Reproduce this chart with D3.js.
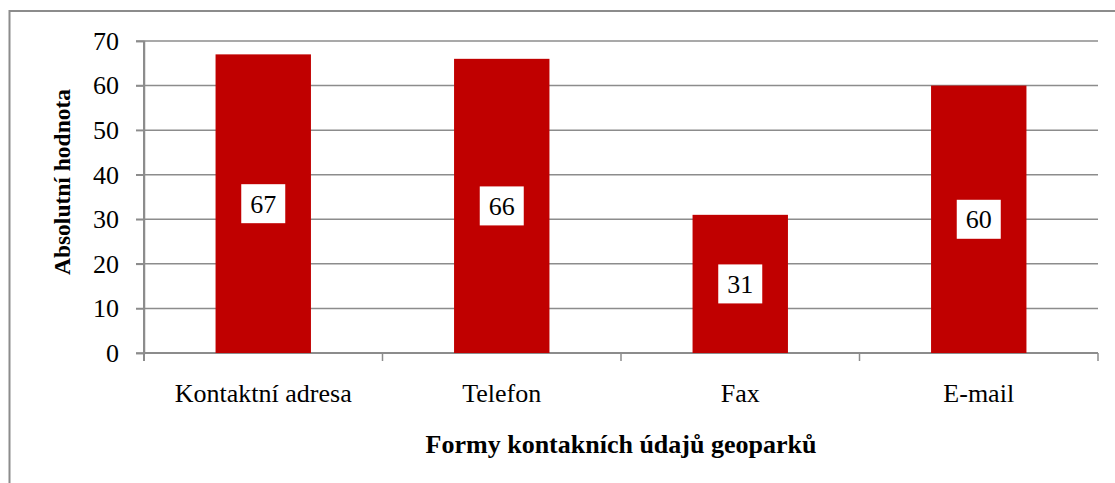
<!DOCTYPE html>
<html>
<head>
<meta charset="utf-8">
<script src="https://cdn.jsdelivr.net/npm/d3@7"></script>
<style>
  body { margin: 0; background: #fff; }
  text { font-family: "Liberation Serif", "Times New Roman", serif; fill: #000; }
</style>
</head>
<body>
<div id="chart"></div>
<script>
// data
var categories = ["Kontaktní adresa", "Telefon", "Fax", "E-mail"];
var values = [67, 66, 31, 60];
var yTicks = [0, 10, 20, 30, 40, 50, 60, 70];
var xTitle = "Formy kontakních údajů geoparků";
var yTitle = "Absolutní hodnota";

//-----------------------------------------------------------------------

var width = 1115, height = 483;
var plot = { left: 144, right: 1098, top: 41, bottom: 353 };
var gridColor = "#8c8c8c";
var barColor = "#c00000";

var svg = d3.select("#chart").append("svg")
  .attr("width", width)
  .attr("height", height);

// outer chart border (runs past the right and bottom edge)
svg.append("rect")
  .attr("x", 9.5).attr("y", 11)
  .attr("width", width + 20).attr("height", height + 20)
  .attr("fill", "#fff")
  .attr("stroke", gridColor)
  .attr("stroke-width", 2);

var x = d3.scaleBand()
  .domain(categories)
  .range([plot.left, plot.right])
  .paddingInner(0.6)
  .paddingOuter(0.3);

var y = d3.scaleLinear()
  .domain([0, 70])
  .range([plot.bottom, plot.top]);

// horizontal gridlines
svg.append("g")
  .selectAll("line")
  .data(yTicks)
  .enter()
  .append("line")
  .attr("x1", plot.left - 8)
  .attr("x2", plot.right)
  .attr("y1", function (d) { return y(d); })
  .attr("y2", function (d) { return y(d); })
  .attr("stroke", gridColor)
  .attr("stroke-width", 1.5);

// y axis
var yAxis = svg.append("g")
  .attr("transform", "translate(" + plot.left + ",0)")
  .attr("font-family", "'Liberation Serif', serif")
  .call(d3.axisLeft(y).tickValues(yTicks).tickSize(8).tickPadding(17));
yAxis.select(".domain").attr("stroke", gridColor).attr("stroke-width", 1.5);
yAxis.selectAll(".tick line").attr("stroke", gridColor).attr("stroke-width", 1.5);
yAxis.selectAll(".tick text")
  .attr("font-size", 26)
  .style("font-family", "'Liberation Serif', serif");

// x axis, ticks at the category boundaries
var boundaries = d3.range(categories.length + 1).map(function (i) {
  return plot.left + i * (plot.right - plot.left) / categories.length;
});
svg.append("line")
  .attr("x1", plot.left).attr("x2", plot.right)
  .attr("y1", plot.bottom).attr("y2", plot.bottom)
  .attr("stroke", gridColor).attr("stroke-width", 2);
svg.append("g")
  .selectAll("line")
  .data(boundaries)
  .enter()
  .append("line")
  .attr("x1", function (d) { return d; })
  .attr("x2", function (d) { return d; })
  .attr("y1", plot.bottom)
  .attr("y2", plot.bottom + 8)
  .attr("stroke", gridColor)
  .attr("stroke-width", 1.5);

// bars
svg.append("g")
  .selectAll("rect")
  .data(values)
  .enter()
  .append("rect")
  .attr("x", function (d, i) { return x(categories[i]); })
  .attr("y", function (d) { return y(d); })
  .attr("width", x.bandwidth())
  .attr("height", function (d) { return y(0) - y(d); })
  .attr("fill", barColor);

// y axis redrawn on top of the gridline start
svg.append("line")
  .attr("x1", plot.left).attr("x2", plot.left)
  .attr("y1", plot.top).attr("y2", plot.bottom + 8)
  .attr("stroke", gridColor).attr("stroke-width", 2);

// value labels in white boxes
var labels = svg.append("g")
  .selectAll("g")
  .data(values)
  .enter()
  .append("g")
  .attr("transform", function (d, i) {
    var cx = x(categories[i]) + x.bandwidth() / 2;
    var cy = (y(d) + y(0)) / 2;
    return "translate(" + cx + "," + cy + ")";
  });
labels.append("rect")
  .attr("x", -22).attr("y", -19.5)
  .attr("width", 44).attr("height", 39)
  .attr("fill", "#fff");
labels.append("text")
  .attr("text-anchor", "middle")
  .attr("dy", "0.35em")
  .attr("font-size", 26)
  .text(function (d) { return d; });

// category labels
svg.append("g")
  .selectAll("text")
  .data(categories)
  .enter()
  .append("text")
  .attr("x", function (d) { return x(d) + x.bandwidth() / 2; })
  .attr("y", 402)
  .attr("text-anchor", "middle")
  .attr("font-size", 26)
  .text(function (d) { return d; });

// axis titles
svg.append("text")
  .attr("x", (plot.left + plot.right) / 2)
  .attr("y", 453)
  .attr("text-anchor", "middle")
  .attr("font-size", 26)
  .attr("font-weight", "bold")
  .text(xTitle);

svg.append("text")
  .attr("transform", "translate(70," + 182 + ") rotate(-90)")
  .attr("text-anchor", "middle")
  .attr("font-size", 23.5)
  .attr("font-weight", "bold")
  .text(yTitle);
</script>
</body>
</html>
